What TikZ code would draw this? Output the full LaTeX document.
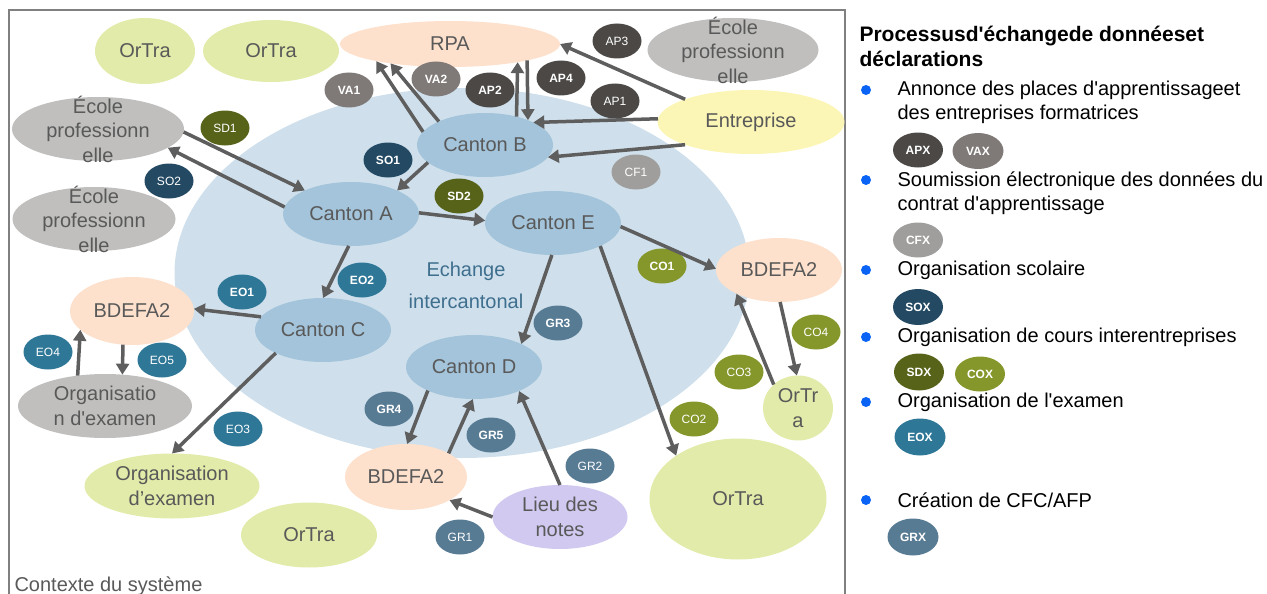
\documentclass[tikz,border=0pt]{standalone}
\usepackage{fontspec}
\setmainfont{Liberation Sans}
\usepackage{xcolor}
\usepackage{tikz}
\usetikzlibrary{arrows.meta, shapes.geometric, positioning}
\definecolor{ortra}{RGB}{226, 235, 169}
\definecolor{peach}{RGB}{253, 225, 205}
\definecolor{school}{RGB}{192, 191, 190}
\definecolor{entyellow}{RGB}{252, 246, 182}
\definecolor{canton}{RGB}{163, 196, 218}
\definecolor{interblue}{RGB}{207, 224, 236}
\definecolor{lavender}{RGB}{209, 201, 240}
\definecolor{txtgray}{RGB}{89, 89, 89}
\definecolor{echblue}{RGB}{63, 111, 142}
\definecolor{arrgray}{RGB}{94, 94, 94}
\definecolor{apdark}{RGB}{75, 72, 70}
\definecolor{vagray}{RGB}{127, 122, 119}
\definecolor{cfgray}{RGB}{160, 158, 156}
\definecolor{sdolive}{RGB}{88, 99, 26}
\definecolor{coolive}{RGB}{133, 150, 42}
\definecolor{sonavy}{RGB}{36, 74, 99}
\definecolor{eoteal}{RGB}{46, 119, 151}
\definecolor{grslate}{RGB}{88, 123, 148}
\definecolor{bulletblue}{RGB}{11, 99, 246}
\definecolor{framegray}{RGB}{128, 128, 128}
\newcommand{\sq}{\textquotesingle}

\begin{document}
\begin{tikzpicture}[
          x=1pt, y=-1pt,
          blob/.style={ellipse, inner sep=0pt, outer sep=0pt, text=txtgray, align=center,
                       font=\fontsize{20}{24.5}\selectfont},
          sz/.style 2 args={minimum width=#1pt, minimum height=#2pt},
          tag/.style={ellipse, inner sep=0pt, minimum width=49pt, minimum height=35pt,
                      text=white, font=\fontsize{12}{12}\selectfont},
          tagb/.style={tag, font=\bfseries\fontsize{12}{12}\selectfont},
          arr/.style={-{Triangle[length=11pt, width=13pt]}, line width=3.5pt, draw=arrgray},
          item/.style={anchor=west, align=left, font=\fontsize{20}{24}\selectfont},
          dot/.style={circle, fill=bulletblue, inner sep=0pt, minimum size=10pt},
        ]
        \useasboundingbox (0,0) rectangle (1267,594);
        \draw[framegray, line width=1.6pt] (9,600) |- (845,10) -- (845,600);
        % exchange zone
        \node[ellipse, fill=interblue, inner sep=0pt, sz={575}{370}] (inter) at (462,273) {};
        \node[text=echblue, align=center, font=\fontsize{20}{32}\selectfont] (ech) at (466,285) {Echange\\intercantonal};
        % actors
        \node[blob, fill=ortra, sz={100}{66}] (ot1) at (145,51) {OrTra};
        \node[blob, fill=ortra, sz={136}{62}] (ot2) at (271,51) {OrTra};
        \node[blob, fill=peach, sz={220}{46}] (rpa) at (450,44) {RPA};
        \node[blob, fill=school, sz={171}{64}, inner ysep=-16pt] (ep3) at (733,50) {École\\professionn\\elle};
        \node[blob, fill=school, sz={172}{64}, inner ysep=-16pt] (ep1) at (98,129) {École\\professionn\\elle};
        \node[blob, fill=school, sz={163}{64}, inner ysep=-16pt] (ep2) at (94,219) {École\\professionn\\elle};
        \node[blob, fill=entyellow, sz={187}{64}] (ent) at (751,122) {Entreprise};
        \node[blob, fill=canton, sz={136}{64}] (cb) at (485,145) {Canton B};
        \node[blob, fill=canton, sz={136}{64}] (ca) at (351,214) {Canton A};
        \node[blob, fill=canton, sz={136}{64}] (ce) at (553,223) {Canton E};
        \node[blob, fill=canton, sz={136}{64}] (cc) at (323,330) {Canton C};
        \node[blob, fill=canton, sz={136}{64}] (cd) at (474,367) {Canton D};
        \node[blob, fill=peach, sz={124}{68}] (bl) at (132,311) {BDEFA2};
        \node[blob, fill=peach, sz={126}{64}] (br) at (779,270) {BDEFA2};
        \node[blob, fill=peach, sz={122}{66}] (bb) at (406,477) {BDEFA2};
        \node[blob, fill=school, sz={174}{64}] (oe) at (105,406) {Organisatio\\n d\sq examen};
        \node[blob, fill=ortra, sz={175}{65}] (og) at (172,486) {Organisation\\d’examen};
        \node[blob, fill=ortra, sz={136}{65}] (ot3) at (309,535) {OrTra};
        \node[blob, fill=lavender, sz={135}{64}] (ln) at (560,517) {Lieu des\\notes};
        \node[blob, fill=ortra, sz={177}{121}] (ob) at (738,499) {OrTra};
        \node[blob, fill=ortra, sz={70}{65}] (os) at (798,408) {OrTr\\a};
        \node[text=txtgray, anchor=base west, font=\fontsize{20}{24}\selectfont] (ctx) at (11,591.5) {Contexte du système};
        % flow tags
        \node[tagb, fill=vagray] (va1) at (349,90) {VA1};
        \node[tagb, fill=vagray] (va2) at (436,79) {VA2};
        \node[tagb, fill=apdark] (ap2) at (490,90) {AP2};
        \node[tagb, fill=apdark] (ap4) at (561,78) {AP4};
        \node[tag, fill=apdark] (ap3) at (617,41) {AP3};
        \node[tag, fill=apdark] (ap1) at (615,101) {AP1};
        \node[tag, fill=cfgray] (cf1) at (636,172) {CF1};
        \node[tag, fill=sdolive] (sd1) at (225,128) {SD1};
        \node[tag, fill=sonavy] (so2) at (169,181) {SO2};
        \node[tagb, fill=sonavy] (so1) at (388,160) {SO1};
        \node[tagb, fill=sdolive] (sd2) at (459,196) {SD2};
        \node[tagb, fill=coolive] (co1) at (662,266) {CO1};
        \node[tagb, fill=eoteal] (eo2) at (362,280) {EO2};
        \node[tagb, fill=eoteal] (eo1) at (242,292) {EO1};
        \node[tag, fill=eoteal] (eo4) at (48,352) {EO4};
        \node[tag, fill=eoteal] (eo5) at (162,360) {EO5};
        \node[tag, fill=eoteal] (eo3) at (238,429) {EO3};
        \node[tagb, fill=grslate] (gr4) at (389,409) {GR4};
        \node[tagb, fill=grslate] (gr3) at (558,323) {GR3};
        \node[tagb, fill=grslate] (gr5) at (491,435) {GR5};
        \node[tag, fill=grslate] (gr2) at (590,466) {GR2};
        \node[tag, fill=grslate] (gr1) at (460,537) {GR1};
        \node[tag, fill=coolive] (co2) at (694,419) {CO2};
        \node[tag, fill=coolive] (co3) at (739,372) {CO3};
        \node[tag, fill=coolive] (co4) at (816,332) {CO4};
        % flows
        \draw[arr] (cb.168) -- (rpa.193);
        \draw[arr] (cb.153) -- (rpa.198);
        \draw[arr] (cb.42) -- (rpa.345);
        \draw[arr] (rpa.348) -- (cb.30);
        \draw[arr] (ent.161) -- (rpa.0);
        \draw[arr] (ent.178) -- (cb.25);
        \draw[arr] (ent.199) -- (cb.349);
        \draw[arr] (cb.197) -- (ca.27);
        \draw[arr] (ep1.358) -- (ca.153);
        \draw[arr] (ca.174) -- (ep1.345);
        \draw[arr] (ca.1) -- (ce.178);
        \draw[arr] (ca.266) -- (cc.90);
        \draw[arr] (cc.168) -- (bl.2);
        \draw[arr] (cc.206) -- (og.90);
        \draw[arr] (oe.132) -- (bl.200);
        \draw[arr] (bl.255) -- (oe.61);
        \draw[arr] (ce.357) -- (br.179);
        \draw[arr] (ce.268) -- (cd.26);
        \draw[arr] (ce.334) -- (ob.145);
        \draw[arr] (cd.207) -- (bb.88);
        \draw[arr] (bb.29) -- (cd.268);
        \draw[arr] (ln.90) -- (cd.332);
        \draw[arr] (ln.180) -- (bb.332);
        \draw[arr] (os.136) -- (br.209);
        \draw[arr] (br.272) -- (os.92);
        % legend
        \node[anchor=west, align=left, font=\bfseries\fontsize{21}{25}\selectfont] (ttl) at (856,46) {Processusd\sq échangede donnéeset\\déclarations};
        \foreach \yy in {90,180,270,337,402,500}
          \node[dot] at (866,\yy) {};
        \node[item] (l1) at (894,102) {Annonce des places d\sq apprentissageet\\des entreprises formatrices};
        \node[tagb, fill=apdark, sz={50}{35}] (apx) at (918,150) {APX};
        \node[tagb, fill=vagray, sz={51}{36}] (vax) at (978,151) {VAX};
        \node[item] (l2) at (894,193) {Soumission électronique des données du\\contrat d\sq apprentissage};
        \node[tagb, fill=cfgray, sz={50}{35}] (cfx) at (918,240) {CFX};
        \node[item] (l3) at (894,270) {Organisation scolaire};
        \node[tagb, fill=sonavy, sz={50}{36}] (sox) at (918,307) {SOX};
        \node[item] (l4) at (894,337) {Organisation de cours interentreprises};
        \node[tagb, fill=sdolive, sz={50}{37}] (sdx) at (919,372) {SDX};
        \node[tagb, fill=coolive, sz={50}{35}] (cox) at (980,374) {COX};
        \node[item] (l5) at (894,402) {Organisation de l\sq examen};
        \node[tagb, fill=eoteal, sz={51}{37}] (eox) at (920,437) {EOX};
        \node[item] (l6) at (894,500) {Création de CFC/AFP};
        \node[tagb, fill=grslate, sz={51}{37}] (grx) at (913,537) {GRX};
      \end{tikzpicture}
\end{document}
